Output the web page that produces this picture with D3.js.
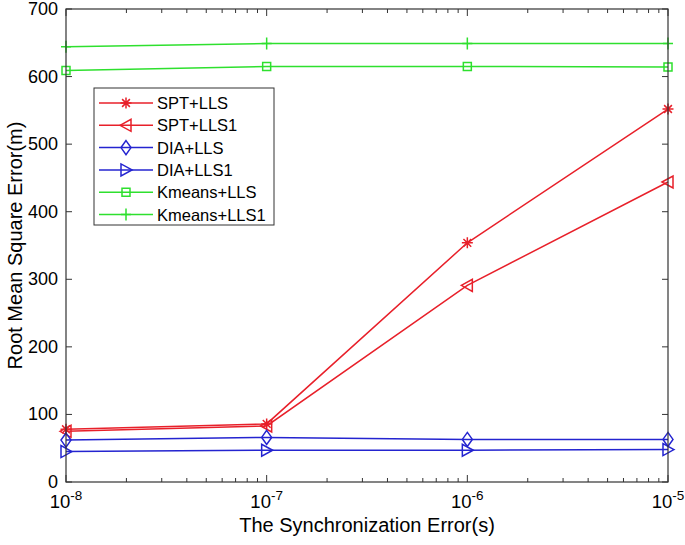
<!DOCTYPE html>
<html>
<head>
<meta charset="utf-8">
<title>RMSE vs synchronization error</title>
<script src="https://cdn.jsdelivr.net/npm/d3@7"></script>
<style>
  body { margin: 0; background: #fff; }
  text { font-family: "Liberation Sans", Arial, sans-serif; fill: #000; }
</style>
</head>
<body>
<svg id="chart" width="685" height="545"></svg>
<script>
// values
var syncErr = [1e-8, 1e-7, 1e-6, 1e-5];
var sptLLS    = [78, 86, 354, 552];
var sptLLS1   = [75, 83, 291, 444];
var diaLLS    = [62, 66, 63, 63];
var diaLLS1   = [45, 47, 47, 48];
var kmeansLLS  = [609, 615, 615, 614];
var kmeansLLS1 = [644, 649, 649, 649];
var yTicks = [0, 100, 200, 300, 400, 500, 600, 700];
var xExponents = [-8, -7, -6, -5];

var series = [
  { name: "SPT+LLS",     values: sptLLS,    color: "#e8202a", marker: "star" },
  { name: "SPT+LLS1",    values: sptLLS1,   color: "#e8202a", marker: "tleft" },
  { name: "DIA+LLS",     values: diaLLS,    color: "#2424d0", marker: "diamond" },
  { name: "DIA+LLS1",    values: diaLLS1,   color: "#2424d0", marker: "tright" },
  { name: "Kmeans+LLS",  values: kmeansLLS, color: "#2ee02e", marker: "square" },
  { name: "Kmeans+LLS1", values: kmeansLLS1,color: "#2ee02e", marker: "plus" }
];

var svg = d3.select("#chart");
var L = 66, R = 668, T = 9, B = 482;

var x = d3.scaleLog().domain([1e-8, 1e-5]).range([L, R]);
var y = d3.scaleLinear().domain([0, 700]).range([B, T]);

// markers as path strings around (0,0)
function markerPath(type) {
  var p = d3.path();
  if (type === "star") {
    var r = 5.5;
    for (var i = 0; i < 4; i++) {
      var a = i * Math.PI / 4;
      p.moveTo(-r * Math.cos(a), -r * Math.sin(a));
      p.lineTo(r * Math.cos(a), r * Math.sin(a));
    }
  } else if (type === "tleft") {
    p.moveTo(-6, 0); p.lineTo(5, -6); p.lineTo(5, 6); p.closePath();
  } else if (type === "tright") {
    p.moveTo(6, 0); p.lineTo(-5, -6); p.lineTo(-5, 6); p.closePath();
  } else if (type === "diamond") {
    p.moveTo(0, -7); p.lineTo(5, 0); p.lineTo(0, 7); p.lineTo(-5, 0); p.closePath();
  } else if (type === "square") {
    p.rect(-4, -4, 8, 8);
  } else if (type === "plus") {
    p.moveTo(-5, 0); p.lineTo(5, 0); p.moveTo(0, -6); p.lineTo(0, 6);
  }
  return p.toString();
}

// ticks (inside, top/bottom and left/right)
var g = svg.append("g").attr("stroke", "#333").attr("stroke-width", 1);
yTicks.forEach(function (v) {
  g.append("line").attr("x1", L).attr("x2", L + 6).attr("y1", y(v)).attr("y2", y(v));
  g.append("line").attr("x1", R).attr("x2", R - 6).attr("y1", y(v)).attr("y2", y(v));
});
var minor = [];
for (var e = -8; e < -5; e++) for (var m = 1; m <= 9; m++) minor.push(m * Math.pow(10, e));
minor.push(1e-5);
minor.forEach(function (v) {
  var major = Math.abs(Math.log10(v) - Math.round(Math.log10(v))) < 1e-9;
  var len = major ? 7 : 4;
  g.append("line").attr("x1", x(v)).attr("x2", x(v)).attr("y1", B).attr("y2", B - len);
  g.append("line").attr("x1", x(v)).attr("x2", x(v)).attr("y1", T).attr("y2", T + len);
});

// tick labels
svg.selectAll(".ylab").data(yTicks).enter().append("text")
  .attr("x", L - 8).attr("y", function (d) { return y(d) + 6; })
  .attr("text-anchor", "end").attr("font-size", 18).text(function (d) { return d; });

xExponents.forEach(function (ex) {
  var t = svg.append("text").attr("x", x(Math.pow(10, ex))).attr("y", B + 26)
    .attr("text-anchor", "middle").attr("font-size", 18.5);
  t.append("tspan").text("10");
  t.append("tspan").attr("dy", -8).attr("font-size", 13.5).text(ex);
});

// lines and markers
var line = d3.line().x(function (d, i) { return x(syncErr[i]); }).y(function (d) { return y(d); });
series.forEach(function (s) {
  svg.append("path").attr("d", line(s.values)).attr("fill", "none")
    .attr("stroke", s.color).attr("stroke-width", 1.5);
  svg.selectAll(null).data(s.values).enter().append("path")
    .attr("d", markerPath(s.marker))
    .attr("transform", function (d, i) { return "translate(" + x(syncErr[i]) + "," + y(d) + ")"; })
    .attr("fill", "none").attr("stroke", s.color).attr("stroke-width", 1.5);
});

// plot frame
svg.append("rect").attr("x", L).attr("y", T).attr("width", R - L).attr("height", B - T)
  .attr("fill", "none").attr("stroke", "#333").attr("stroke-width", 1.2);

// legend
var lg = svg.append("g").attr("transform", "translate(94,88)");
lg.append("rect").attr("width", 180).attr("height", 137).attr("fill", "#fff")
  .attr("stroke", "#333").attr("stroke-width", 1);
series.forEach(function (s, i) {
  var yy = 15 + i * 22.3;
  lg.append("line").attr("x1", 5).attr("x2", 59).attr("y1", yy).attr("y2", yy)
    .attr("stroke", s.color).attr("stroke-width", 1.5);
  lg.append("path").attr("d", markerPath(s.marker)).attr("transform", "translate(32," + yy + ")")
    .attr("fill", "none").attr("stroke", s.color).attr("stroke-width", 1.5);
  lg.append("text").attr("x", 63).attr("y", yy + 6).attr("font-size", 16.5).text(s.name);
});

// axis titles
svg.append("text").attr("x", (L + R) / 2).attr("y", 532).attr("text-anchor", "middle")
  .attr("font-size", 20).text("The Synchronization Error(s)");
svg.append("text").attr("transform", "translate(22," + (T + B) / 2 + ") rotate(-90)")
  .attr("text-anchor", "middle").attr("font-size", 20).text("Root Mean Square Error(m)");
</script>
</body>
</html>
